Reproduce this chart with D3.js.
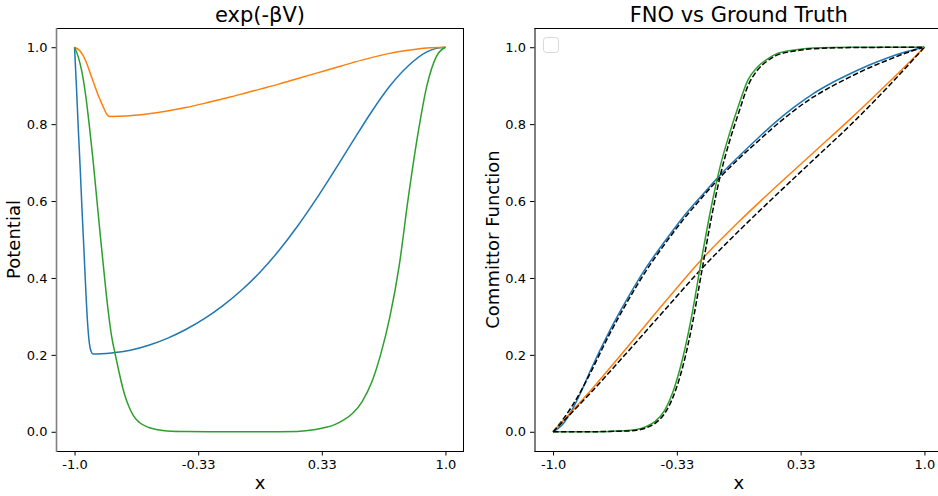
<!DOCTYPE html>
<html>
<head>
<meta charset="utf-8" />
<script src="https://cdn.jsdelivr.net/npm/d3@7"></script>
<style>
	body { margin: 0; background: #fff; }
	svg text { font-family: "DejaVu Sans", sans-serif; fill: #000; }
</style>
</head>
<body>
<script>
	var width = 938;
	var height = 496;

	// tick labels
	var xTickVals = [-1, -1/3, 1/3, 1];
	var xTickLabels = ["-1.0", "-0.33", "0.33", "1.0"];
	var yTickVals = [0, 0.2, 0.4, 0.6, 0.8, 1.0];

	// left panel: exp(-beta V)
	var potBlueX = [-1, -0.99, -0.98, -0.97, -0.96, -0.95, -0.94, -0.93, -0.92, -0.91, -0.9, -0.8, -0.7, -0.6, -0.5, -0.4, -0.3, -0.2, -0.1, 0, 0.1, 0.2, 0.3, 0.4, 0.5, 0.6, 0.7, 0.8, 0.9, 0.95, 1];
	var potBlue  = [1, 0.9, 0.79, 0.69, 0.58, 0.48, 0.375, 0.285, 0.23, 0.208, 0.202, 0.205, 0.212, 0.225, 0.243, 0.266, 0.294, 0.328, 0.368, 0.415, 0.47, 0.533, 0.603, 0.678, 0.755, 0.831, 0.899, 0.952, 0.988, 0.997, 1];

	var potOrangeX = [-1, -0.97, -0.94, -0.91, -0.88, -0.85, -0.82, -0.81, -0.7, -0.6, -0.5, -0.4, -0.3, -0.2, -0.1, 0, 0.1, 0.2, 0.3, 0.4, 0.5, 0.6, 0.7, 0.8, 0.9, 1];
	var potOrange  = [1, 0.99, 0.965, 0.925, 0.885, 0.85, 0.822, 0.82, 0.822, 0.827, 0.834, 0.843, 0.854, 0.866, 0.878, 0.891, 0.904, 0.918, 0.932, 0.946, 0.96, 0.973, 0.984, 0.992, 0.998, 1];

	var potGreenX = [-1, -0.98, -0.96, -0.94, -0.92, -0.9, -0.88, -0.86, -0.84, -0.82, -0.8, -0.78, -0.76, -0.74, -0.72, -0.7, -0.68, -0.65, -0.6, -0.55, -0.5, -0.4, -0.2, 0, 0.2, 0.3, 0.35, 0.4, 0.45, 0.5, 0.55, 0.6, 0.65, 0.7, 0.75, 0.8, 0.85, 0.9, 0.95, 1];
	var potGreen  = [1, 0.975, 0.935, 0.875, 0.795, 0.705, 0.605, 0.505, 0.41, 0.32, 0.248, 0.2, 0.155, 0.114, 0.082, 0.058, 0.04, 0.024, 0.011, 0.005, 0.002, 0.0005, 0, 0, 0.001, 0.006, 0.011, 0.018, 0.03, 0.048, 0.078, 0.126, 0.2, 0.298, 0.43, 0.61, 0.77, 0.9, 0.975, 1];

	// right panel: committor, FNO and ground truth
	var comBlueX     = [-1, -0.95, -0.9, -0.85, -0.8, -0.7, -0.6, -0.5, -0.4, -0.3, -0.2, -0.1, 0, 0.1, 0.2, 0.3, 0.4, 0.5, 0.6, 0.7, 0.8, 0.9, 1];
	var fnoBlue      = [0, 0.018, 0.055, 0.103, 0.158, 0.258, 0.346, 0.426, 0.494, 0.558, 0.614, 0.668, 0.716, 0.762, 0.806, 0.845, 0.879, 0.907, 0.931, 0.953, 0.972, 0.988, 1];
	var truthBlue    = [0, 0.03, 0.065, 0.106, 0.152, 0.25, 0.338, 0.418, 0.487, 0.551, 0.608, 0.662, 0.71, 0.754, 0.797, 0.836, 0.87, 0.898, 0.923, 0.946, 0.966, 0.985, 1];

	var comOrangeX   = [-1, -0.8, -0.6, -0.4, -0.2, 0, 0.2, 0.4, 0.6, 0.8, 1];
	var fnoOrange    = [0, 0.106, 0.22, 0.336, 0.448, 0.546, 0.637, 0.725, 0.813, 0.905, 1];
	var truthOrange  = [0, 0.1, 0.207, 0.316, 0.424, 0.522, 0.615, 0.706, 0.797, 0.895, 1];

	var comGreenX    = [-1, -0.8, -0.7, -0.6, -0.55, -0.5, -0.45, -0.4, -0.35, -0.3, -0.25, -0.2, -0.15, -0.1, -0.05, 0, 0.05, 0.1, 0.15, 0.2, 0.3, 0.4, 0.6, 1];
	var fnoGreen     = [0, 0, 0.001, 0.003, 0.006, 0.013, 0.027, 0.055, 0.11, 0.195, 0.31, 0.45, 0.58, 0.69, 0.775, 0.85, 0.915, 0.948, 0.968, 0.982, 0.993, 0.998, 1, 1];
	var truthGreen   = [0, 0, 0.001, 0.002, 0.004, 0.01, 0.022, 0.047, 0.095, 0.172, 0.28, 0.415, 0.55, 0.665, 0.755, 0.83, 0.9, 0.94, 0.963, 0.978, 0.99, 0.996, 0.999, 1];

	var C0 = "#1f77b4", C1 = "#ff7f0e", C2 = "#2ca02c";

	var svg = d3.select("body").append("svg")
		.attr("width", width)
		.attr("height", height);

	function zip(xs, ys) {
		return xs.map(function(x, i) { return [x, ys[i]]; });
	}

	function makePanel(left, right, title, ylabel, ylabelX, leftSpineColor) {
		var top = 28, bottom = 451;
		var x = d3.scaleLinear().domain([-1.1, 1.1]).range([left, right]);
		var y = d3.scaleLinear().domain([-0.05, 1.05]).range([bottom, top]);
		var g = svg.append("g");

		var xAxis = d3.axisBottom(x).tickValues(xTickVals)
			.tickFormat(function(d, i) { return xTickLabels[i]; })
			.tickSize(4.5).tickPadding(4);
		g.append("g").attr("transform", "translate(0," + bottom + ")").call(xAxis)
			.call(function(a) { a.select(".domain").remove(); });

		var yAxis = d3.axisLeft(y).tickValues(yTickVals)
			.tickFormat(d3.format(".1f"))
			.tickSize(4.5).tickPadding(4);
		g.append("g").attr("transform", "translate(" + left + ",0)").call(yAxis)
			.call(function(a) { a.select(".domain").remove(); });

		g.selectAll(".tick text").attr("font-size", 13).attr("font-family", "DejaVu Sans");

		var line = d3.line()
			.x(function(d) { return x(d[0]); })
			.y(function(d) { return y(d[1]); })
			.curve(d3.curveMonotoneX);

		var plot = g.append("g");

		// spines
		g.append("line").attr("x1", left).attr("x2", right).attr("y1", top + 0.5).attr("y2", top + 0.5)
			.attr("stroke", "#000").attr("stroke-width", 1);
		g.append("line").attr("x1", left).attr("x2", right).attr("y1", bottom + 0.5).attr("y2", bottom + 0.5)
			.attr("stroke", "#000").attr("stroke-width", 1);
		g.append("line").attr("x1", left + 0.5).attr("x2", left + 0.5).attr("y1", top).attr("y2", bottom + 1)
			.attr("stroke", leftSpineColor).attr("stroke-width", leftSpineColor === "#000" ? 1 : 1.6);
		g.append("line").attr("x1", right - 0.5).attr("x2", right - 0.5).attr("y1", top).attr("y2", bottom + 1)
			.attr("stroke", "#000").attr("stroke-width", 1);

		g.append("text").attr("x", (left + right) / 2).attr("y", 22)
			.attr("text-anchor", "middle").attr("font-size", 21).text(title);
		g.append("text").attr("x", x(0)).attr("y", 489)
			.attr("text-anchor", "middle").attr("font-size", 18).text("x");
		g.append("text")
			.attr("transform", "translate(" + ylabelX + "," + ((top + bottom) / 2) + ") rotate(-90)")
			.attr("text-anchor", "middle").attr("font-size", 18).text(ylabel);

		return { plot: plot, line: line, x: x, y: y };
	}

	// left panel
	var p1 = makePanel(56, 464, "exp(-βV)", "Potential", 20, "#808080");
	[[potBlueX, potBlue, C0], [potOrangeX, potOrange, C1], [potGreenX, potGreen, C2]].forEach(function(s) {
		p1.plot.append("path")
			.attr("d", p1.line(zip(s[0], s[1])))
			.attr("fill", "none").attr("stroke", s[2]).attr("stroke-width", 1.5);
	});

	// right panel
	var p2 = makePanel(534.5, 943, "FNO vs Ground Truth", "Committor Function", 499, "#000");
	[[comBlueX, fnoBlue, truthBlue, C0], [comOrangeX, fnoOrange, truthOrange, C1], [comGreenX, fnoGreen, truthGreen, C2]].forEach(function(s) {
		p2.plot.append("path")
			.attr("d", p2.line(zip(s[0], s[1])))
			.attr("fill", "none").attr("stroke", s[3]).attr("stroke-width", 1.5);
		p2.plot.append("path")
			.attr("d", p2.line(zip(s[0], s[2])))
			.attr("fill", "none").attr("stroke", "#000").attr("stroke-width", 1.5)
			.attr("stroke-dasharray", "5.5,2.4");
	});

	// empty legend box
	svg.append("rect")
		.attr("x", 543.5).attr("y", 37.5).attr("width", 15).attr("height", 15)
		.attr("rx", 3).attr("fill", "#fff").attr("fill-opacity", 0.8)
		.attr("stroke", "#d8d8d8").attr("stroke-width", 1);
</script>
</body>
</html>
